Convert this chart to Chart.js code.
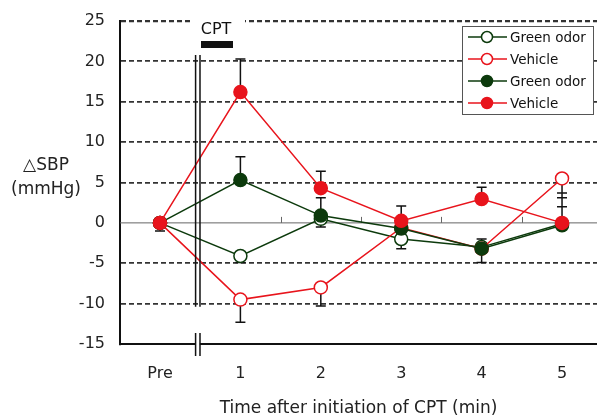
<!DOCTYPE html>
<html><head><meta charset="utf-8">
<script src="https://cdn.jsdelivr.net/npm/chart.js@4.4.1/dist/chart.umd.min.js"></script>
<style>html,body{margin:0;padding:0;background:#fff;overflow:hidden}canvas{display:block}</style>
</head><body>
<canvas id="c" width="597" height="419"></canvas>
<script>
const categories=['Pre','1','2','3','4','5'];
const yTicks=[25,20,15,10,5,0,-5,-10,-15];
const seriesLabels=['Green odor','Vehicle','Green odor','Vehicle'];
// values and the end value of each (one sided) error bar, null = not visible
const odorOpen=[0,-4.1,0.5,-2.0,-3.0,-0.1];
const odorOpenErr=[null,-4.9,-0.5,-3.2,-2.0,null];
const vehOpen=[0,-9.5,-8.0,-0.6,-3.2,5.5];
const vehOpenErr=[null,-12.3,-10.3,null,null,2.0];
const odorFilled=[0,5.3,0.9,-0.7,-3.2,-0.3];
const odorFilledErr=[null,8.2,3.1,null,-4.9,3.7];
const vehFilled=[0,16.2,4.3,0.25,2.95,0];
const vehFilledErr=[-1.0,20.3,6.4,2.1,4.4,3.1];

const RED='#e8141c', GREEN='#0c3a0c';
const breakAt=0.47;
const pts=a=>a.map((v,i)=>({x:i,y:v}));
const ds=(label,data,err,col,filled,order)=>({label,data:pts(data),err,order,
  borderColor:col,backgroundColor:filled?col:'#fff',pointBackgroundColor:filled?col:'#fff',
  pointBorderColor:col,pointRadius:6.5,pointBorderWidth:1.5,borderWidth:1.5,tension:0});

const extras={
  id:'extras',
  beforeDatasetsDraw(chart){
    const {ctx,chartArea:a,scales:{x,y}}=chart;
    ctx.save();
    // gap in top line for the CPT label
    ctx.fillStyle='#fff';ctx.fillRect(190,a.top-4,55,8);
    // zero line with half ticks
    const y0=y.getPixelForValue(0);
    ctx.strokeStyle='#666';ctx.lineWidth=1;ctx.beginPath();
    ctx.moveTo(a.left,y0);ctx.lineTo(a.right,y0);
    for(let i=1;i<categories.length-1;i++){const px=Math.round(x.getPixelForValue(i+0.5))+0.5;ctx.moveTo(px,y0);ctx.lineTo(px,y0-6);}
    ctx.stroke();
    // error bars
    ctx.strokeStyle='#111';ctx.lineWidth=1.5;ctx.beginPath();
    chart.data.datasets.forEach(d=>{
      d.err.forEach((e,i)=>{
        if(e===null)return;
        const px=x.getPixelForValue(i),p0=y.getPixelForValue(d.data[i].y),p1=y.getPixelForValue(e);
        ctx.moveTo(px,p0);ctx.lineTo(px,p1);ctx.moveTo(px-5,p1);ctx.lineTo(px+5,p1);
      });
    });
    ctx.stroke();
    ctx.restore();
  },
  afterDatasetsDraw(chart){
    const {ctx,chartArea:a,scales:{x,y}}=chart;
    ctx.save();
    const bx=x.getPixelForValue(breakAt);
    ctx.strokeStyle='#111';ctx.lineWidth=1.5;ctx.beginPath();
    [bx-2.2,bx+2.2].forEach(px=>{ctx.moveTo(px,y.getPixelForValue(20.8));ctx.lineTo(px,y.getPixelForValue(-10.4));});
    ctx.stroke();
    // axis break
    ctx.fillStyle='#fff';ctx.fillRect(bx-2,a.bottom-3,4,6);
    ctx.beginPath();
    [bx-2.2,bx+2.2].forEach(px=>{ctx.moveTo(px,a.bottom-11);ctx.lineTo(px,a.bottom+12);});
    ctx.stroke();
    // CPT label and bar
    ctx.fillStyle='#111';ctx.font='16px "DejaVu Sans"';ctx.textAlign='center';ctx.textBaseline='middle';
    ctx.fillText('CPT',216,30);
    ctx.fillRect(201,41,32,7);
    // y title
    ctx.fillStyle='#222';ctx.font='17px "DejaVu Sans"';
    ctx.fillText('△SBP',46,166);
    ctx.fillText('(mmHg)',46,190);
    // legend
    const L=462,T=26,W=131,H=88;
    ctx.fillStyle='#fff';ctx.fillRect(L,T,W,H);
    ctx.strokeStyle='#555';ctx.lineWidth=1;ctx.strokeRect(L+0.5,T+0.5,W,H);
    ctx.font='13.5px "DejaVu Sans"';ctx.textAlign='left';
    chart.data.datasets.forEach((d,i)=>{
      const ry=T+11+i*22;
      ctx.strokeStyle=d.borderColor;ctx.lineWidth=1.5;ctx.beginPath();ctx.moveTo(L+6,ry);ctx.lineTo(L+45,ry);ctx.stroke();
      ctx.fillStyle=d.pointBackgroundColor;ctx.beginPath();ctx.arc(L+25,ry,5.5,0,Math.PI*2);ctx.fill();ctx.stroke();
      ctx.fillStyle='#111';ctx.fillText(d.label,L+48,ry+1);
    });
    ctx.restore();
  }
};

Chart.defaults.font.family='"DejaVu Sans"';
Chart.defaults.color='#222';
new Chart(document.getElementById('c'),{
  type:'line',
  data:{datasets:[
    ds(seriesLabels[0],odorOpen,odorOpenErr,GREEN,false,3),
    ds(seriesLabels[1],vehOpen,vehOpenErr,RED,false,2),
    ds(seriesLabels[2],odorFilled,odorFilledErr,GREEN,true,1),
    ds(seriesLabels[3],vehFilled,vehFilledErr,RED,true,0)
  ]},
  options:{
    animation:false,responsive:false,devicePixelRatio:1,
    layout:{autoPadding:false,padding:{top:21,right:0,bottom:0,left:0}},
    plugins:{legend:{display:false},tooltip:{enabled:false}},
    scales:{
      x:{type:'linear',min:-0.4975,max:5.435,
        afterBuildTicks:s=>{s.ticks=categories.map((c,i)=>({value:i}));},
        afterFit:s=>{s.height=75;s.paddingLeft=0;s.paddingRight=0;},
        ticks:{callback:v=>categories[v],padding:20,font:{size:16},maxRotation:0,autoSkip:false},
        grid:{display:false,drawTicks:false},
        border:{display:true,color:'#111',width:2},
        title:{display:true,text:'Time after initiation of CPT (min)',font:{size:17},padding:{top:0,bottom:0}}
      },
      y:{min:-15,max:25,
        afterBuildTicks:s=>{s.ticks=yTicks.map(v=>({value:v}));},
        afterFit:s=>{s.width=120;s.paddingTop=0;s.paddingBottom=0;},
        ticks:{padding:15,font:{size:16}},
        grid:{drawTicks:false,
          color:c=>(c.tick&&(c.tick.value===0||c.tick.value===-15))?'rgba(0,0,0,0)':'#333',
          lineWidth:c=>(c.tick&&c.tick.value===25)?2.2:1.8},
        border:{display:true,color:'#111',width:2,dash:[5,3]}
      }
    }
  },
  plugins:[extras]
});
</script>
</body></html>
